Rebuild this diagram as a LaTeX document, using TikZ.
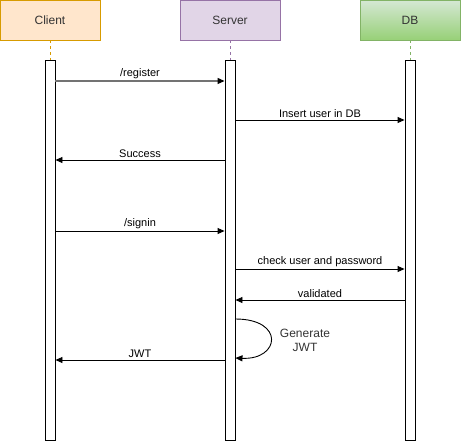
\documentclass[tikz,border=0pt]{standalone}
\usepackage{fontspec}
\setmainfont{Liberation Sans}
\usetikzlibrary{arrows.meta}
\definecolor{cfill}{HTML}{FFE6CC}\definecolor{cdraw}{HTML}{D79B00}
\definecolor{sfill}{HTML}{E1D5E7}\definecolor{sdraw}{HTML}{9673A6}
\definecolor{dtop}{HTML}{D5E8D4}\definecolor{dbot}{HTML}{97D077}\definecolor{ddraw}{HTML}{82B366}
\definecolor{txt}{HTML}{333333}
\begin{document}
\begin{tikzpicture}[x=1pt,y=-1pt,line width=0.9pt,
  actor/.style={minimum width=100pt,minimum height=40pt,inner sep=0pt,font=\fontsize{12}{14}\selectfont,text=txt},
  bar/.style={draw=black,fill=white,minimum width=10pt,minimum height=380pt,inner sep=0pt},
  life/.style={dashed,dash pattern=on 3pt off 3pt,line width=0.7pt},
  msg/.style={-{Triangle[length=7pt,width=6pt,color=black]},draw=black},
  lbl/.style={font=\fontsize{11}{13}\selectfont,text=black,above,inner sep=2pt}]
\useasboundingbox (0,0) rectangle (462,441);
\node[actor,draw=cdraw,fill=cfill] (client) at (50,20) {Client};
\node[actor,draw=sdraw,fill=sfill] (server) at (230,20) {Server};
\node[actor,draw=ddraw,top color=dtop,bottom color=dbot] (db) at (410,20) {DB};
\node[bar] (cb) at (50,250) {};
\node[bar] (sb) at (230,250) {};
\node[bar] (dbb) at (410,250) {};
\draw[life,draw=cdraw] (client.south) -- (cb.north);
\draw[life,draw=sdraw] (server.south) -- (sb.north);
\draw[life,draw=ddraw] (db.south) -- (dbb.north);
% messages
\draw[msg,draw=black!55,line width=1.1pt] (cb.east |- 0,81) -- node[lbl]{/register} (sb.west |- 0,81);
\draw[msg] (sb.east |- 0,120) -- node[lbl]{Insert user in DB} (dbb.west |- 0,120);
\draw[msg] (sb.west |- 0,160) -- node[lbl]{Success} (cb.east |- 0,160);
\draw[msg] (cb.east |- 0,231) -- node[lbl]{/signin} (sb.west |- 0,231);
\draw[msg] (sb.east |- 0,269) -- node[lbl]{check user and password} (dbb.west |- 0,269);
\draw[msg] (dbb.west |- 0,300) -- node[lbl]{validated} (sb.east |- 0,300);
\coordinate (l1) at (sb.east |- 0,319);
\coordinate (l2) at (sb.east |- 0,358);
\draw[msg] (l1) .. controls (285,319) and (280,360) .. (l2);
\node[font=\fontsize{12}{14}\selectfont,text=txt,align=center] (gen) at (305,340) {Generate\\JWT};
\draw[msg] (sb.west |- 0,360) -- node[lbl]{JWT} (cb.east |- 0,360);
\end{tikzpicture}
\end{document}
